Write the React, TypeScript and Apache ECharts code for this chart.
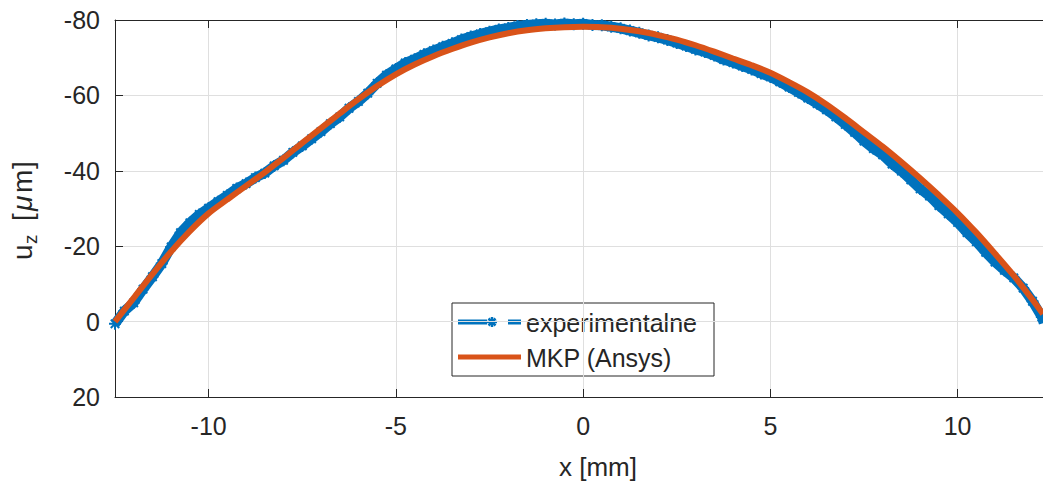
import React, { useEffect, useRef } from "react";
import * as echarts from "echarts";

// Position along the plate [mm]
const mkpX = [
  -12.5, -12, -11.5, -11, -10.5, -10, -9.5, -9, -8.5, -8, -7.5, -7, -6.5, -6, -5.5, -5, -4.5, -4, -3.5, -3, -2.5, -2,
  -1.5, -1, -0.5, 0, 0.5, 1, 1.5, 2, 2.5, 3, 3.5, 4, 4.5, 5, 5.5, 6, 6.5, 7, 7.5, 8, 8.5, 9, 9.5, 10, 10.5, 11, 11.5,
  12, 12.28,
];
// FEM (Ansys) deflection u_z [µm]
const mkpU = [
  0, -6.3, -12.6, -18.6, -24.0, -28.7, -32.4, -36.0, -39.6, -43.4, -47.4, -51.3, -55.2, -59.0, -62.5, -65.6, -68.2,
  -70.4, -72.3, -74.0, -75.4, -76.5, -77.3, -77.8, -78.1, -78.2, -78.1, -77.7, -77.0, -76.0, -74.8, -73.3, -71.6,
  -69.8, -68.0, -66.0, -63.5, -60.8, -57.6, -54.0, -50.2, -46.4, -42.3, -38.0, -33.5, -28.8, -23.6, -18.0, -12.2,
  -5.8, -2.0,
];

// Measured profile
const expX = [
  -12.5, -12.25, -12, -11.75, -11.5, -11.25, -11, -10.75, -10.5, -10.25, -10, -9.75, -9.5, -9.25, -9, -8.75, -8.5,
  -8.25, -8, -7.75, -7.5, -7.25, -7, -6.75, -6.5, -6.25, -6, -5.75, -5.5, -5.25, -5, -4.75, -4.5, -4.25, -4, -3.75,
  -3.5, -3.25, -3, -2.75, -2.5, -2.25, -2, -1.75, -1.5, -1.25, -1, -0.75, -0.5, -0.25, 0, 0.25, 0.5, 0.75, 1, 1.25,
  1.5, 1.75, 2, 2.25, 2.5, 2.75, 3, 3.25, 3.5, 3.75, 4, 4.25, 4.5, 4.75, 5, 5.25, 5.5, 5.75, 6, 6.25, 6.5, 6.75, 7,
  7.25, 7.5, 7.75, 8, 8.25, 8.5, 8.75, 9, 9.25, 9.5, 9.75, 10, 10.25, 10.5, 10.75, 11, 11.25, 11.5, 11.75, 12, 12.25,
  12.3,
];
const expU = [
  0.6, -2.8, -5.0, -8.6, -11.9, -15.4, -19.8, -23.6, -26.2, -28.4, -30.1, -31.8, -33.5, -35.3, -36.6, -38.2, -39.4,
  -41.3, -42.8, -44.9, -46.6, -48.5, -50.4, -52.5, -54.3, -56.6, -58.4, -60.6, -63.2, -65.4, -67.0, -68.6, -69.6,
  -70.9, -71.9, -72.9, -73.8, -74.8, -75.6, -76.3, -76.9, -77.5, -77.9, -78.4, -78.7, -78.9, -79.0, -78.8, -79.1,
  -78.9, -79.0, -78.7, -78.6, -78.2, -77.8, -77.2, -76.6, -75.9, -75.4, -74.7, -73.9, -73.1, -72.2, -71.5, -70.6,
  -69.5, -68.7, -67.8, -66.9, -65.8, -64.9, -63.6, -62.2, -60.8, -59.3, -57.8, -56.2, -54.3, -52.3, -50.2, -47.9,
  -45.9, -44.2, -41.8, -39.9, -37.6, -35.2, -33.3, -30.8, -28.6, -26.3, -23.6, -21.2, -18.4, -15.8, -13.6, -11.6,
  -8.9, -5.4, -1.2, 0.4,
];

const BLUE = "#0072BD";
const ORANGE = "#D95319";
const AXIS = "#262626";
const GRID = "#dfdfdf";
const FONT = "'Liberation Sans', Arial, Helvetica, sans-serif";

// Asterisk marker: plus and cross strokes
const ASTERISK = "path://M0,5L10,5M5,0L5,10M1.5,1.5L8.5,8.5M8.5,1.5L1.5,8.5";

export default function App() {
  const ref = useRef<HTMLDivElement>(null);

  useEffect(() => {
    document.body.style.margin = "0";
    const chart = echarts.init(ref.current!, null, { renderer: "svg" });

    const xCommon = {
      type: "value",
      min: -12.5,
      max: 12.28,
      splitNumber: 5,
    };

    chart.setOption({
      animation: false,
      backgroundColor: "#ffffff",
      textStyle: { fontFamily: FONT },
      grid: { left: 115, top: 20, right: 0, bottom: 92 },
      xAxis: [
        {
          ...xCommon,
          position: "bottom",
          axisLine: { show: true, onZero: false, lineStyle: { color: AXIS, width: 1 } },
          axisTick: { show: true, inside: true, length: 8, lineStyle: { color: AXIS } },
          axisLabel: {
            showMinLabel: false,
            showMaxLabel: false,
            color: AXIS,
            fontSize: 25,
            margin: 16,
            fontFamily: FONT,
          },
          splitLine: { show: true, lineStyle: { color: GRID, width: 1 } },
        },
        {
          ...xCommon,
          position: "top",
          axisLine: { show: true, onZero: false, lineStyle: { color: AXIS, width: 1 } },
          axisTick: { show: true, inside: true, length: 8, lineStyle: { color: AXIS } },
          axisLabel: { show: false },
          splitLine: { show: false },
        },
      ],
      yAxis: {
        type: "value",
        inverse: true,
        min: -80,
        max: 20,
        interval: 20,
        axisLine: { show: true, onZero: false, lineStyle: { color: AXIS, width: 1 } },
        axisTick: { show: true, inside: true, length: 8, lineStyle: { color: AXIS } },
        axisLabel: { color: AXIS, fontSize: 25, margin: 15, fontFamily: FONT },
        splitLine: { show: true, lineStyle: { color: GRID, width: 1 } },
      },
      series: [
        {
          type: "line",
          name: "experimentalne",
          xAxisIndex: 0,
          data: expX.map((x, i) => [x, expU[i]]),
          symbol: ASTERISK,
          symbolSize: 12,
          showAllSymbol: true,
          lineStyle: { color: BLUE, width: 10 },
          itemStyle: { color: BLUE, borderColor: BLUE, borderWidth: 2 },
          z: 2,
        },
        {
          type: "line",
          name: "MKP (Ansys)",
          xAxisIndex: 0,
          data: mkpX.map((x, i) => [x, mkpU[i]]),
          symbol: "none",
          smooth: 0.3,
          lineStyle: { color: ORANGE, width: 6 },
          z: 3,
        },
      ],
      graphic: [
        // x-axis title
        {
          type: "text",
          x: 598,
          y: 467,
          style: {
            text: "x [mm]",
            fontSize: 26,
            fontFamily: FONT,
            fill: AXIS,
            align: "center",
            verticalAlign: "middle",
          },
        },
        // y-axis title: u_z [µm], reading bottom to top
        {
          type: "group",
          x: 22,
          y: 260,
          rotation: Math.PI / 2,
          children: [
            { type: "text", x: 0, y: 0, style: { text: "u", fontSize: 28, fontFamily: FONT, fill: AXIS, verticalAlign: "middle" } },
            { type: "text", x: 16, y: 8, style: { text: "z", fontSize: 19, fontFamily: FONT, fill: AXIS, verticalAlign: "middle" } },
            { type: "text", x: 39, y: 0, style: { text: "[", fontSize: 28, fontFamily: FONT, fill: AXIS, verticalAlign: "middle" } },
            { type: "text", x: 49, y: 0, style: { text: "\u03bc", fontSize: 28, fontStyle: "italic", fontFamily: FONT, fill: AXIS, verticalAlign: "middle" } },
            { type: "text", x: 67, y: 0, style: { text: "m", fontSize: 28, fontFamily: FONT, fill: AXIS, verticalAlign: "middle" } },
            { type: "text", x: 91, y: 0, style: { text: "]", fontSize: 28, fontFamily: FONT, fill: AXIS, verticalAlign: "middle" } },
          ],
        },
        // legend
        {
          type: "group",
          z: 100,
          children: [
            {
              type: "rect",
              shape: { x: 452, y: 303, width: 262, height: 73 },
              style: { fill: "#ffffff", stroke: AXIS, lineWidth: 1 },
            },
            { type: "line", shape: { x1: 458, y1: 322, x2: 487, y2: 322 }, style: { stroke: BLUE, lineWidth: 5 } },
            { type: "line", shape: { x1: 487, y1: 322, x2: 497, y2: 322 }, style: { stroke: BLUE, lineWidth: 2.5 } },
            { type: "line", shape: { x1: 492, y1: 317, x2: 492, y2: 327 }, style: { stroke: BLUE, lineWidth: 2.5 } },
            { type: "line", shape: { x1: 488.5, y1: 318.5, x2: 495.5, y2: 325.5 }, style: { stroke: BLUE, lineWidth: 2.5 } },
            { type: "line", shape: { x1: 495.5, y1: 318.5, x2: 488.5, y2: 325.5 }, style: { stroke: BLUE, lineWidth: 2.5 } },
            { type: "line", shape: { x1: 508, y1: 322, x2: 521, y2: 322 }, style: { stroke: BLUE, lineWidth: 5 } },
            {
              type: "text",
              x: 526,
              y: 323,
              style: { text: "experimentalne", fontSize: 25, fontFamily: FONT, fill: AXIS, verticalAlign: "middle" },
            },
            { type: "line", shape: { x1: 458, y1: 357, x2: 521, y2: 357 }, style: { stroke: ORANGE, lineWidth: 5 } },
            {
              type: "text",
              x: 526,
              y: 358,
              style: { text: "MKP (Ansys)", fontSize: 25, fontFamily: FONT, fill: AXIS, verticalAlign: "middle" },
            },
          ],
        },
      ],
    });

    return () => chart.dispose();
  }, []);

  return <div ref={ref} style={{ width: 1043, height: 489 }} />;
}
